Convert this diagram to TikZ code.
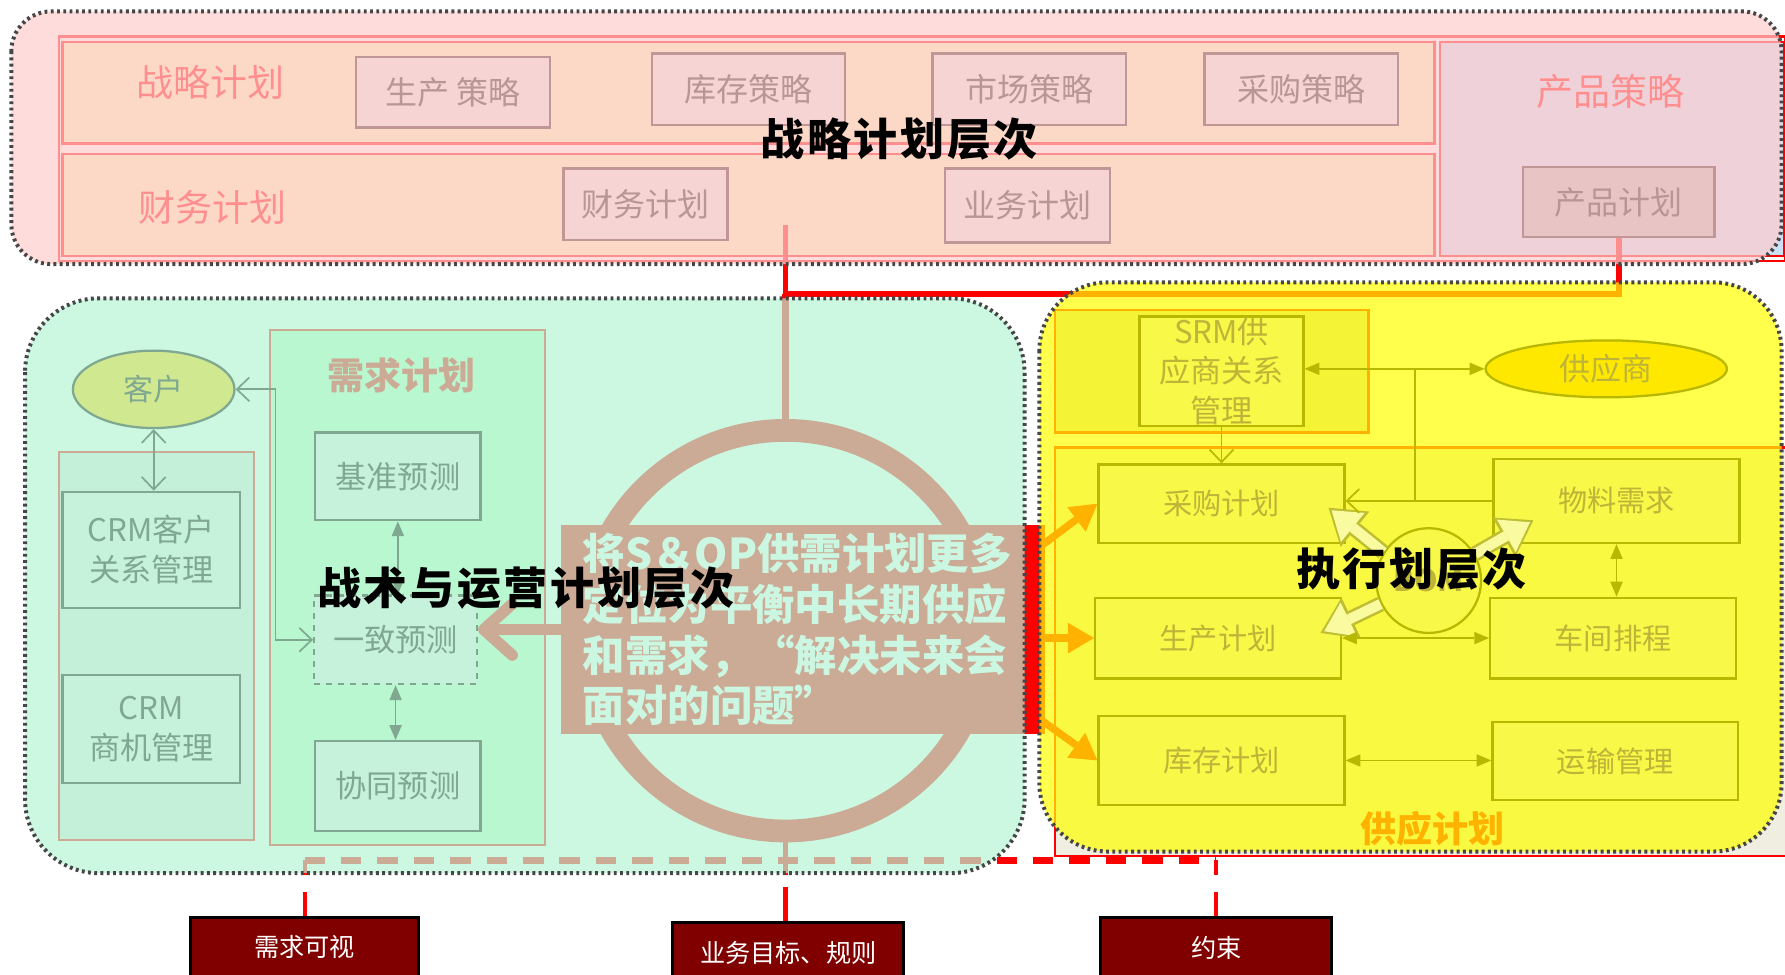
\documentclass[tikz,border=0pt]{standalone}
\usepackage{fontspec}
\setmainfont{Noto Sans CJK SC}
\newfontfamily\brushfont[LetterSpace=6]{Noto Sans CJK SC}
\usetikzlibrary{arrows.meta,calc,shapes.geometric}

\definecolor{planred}{RGB}{255,0,0}
\definecolor{pinkveil}{RGB}{255,205,205}
\definecolor{mintveil}{RGB}{182,245,214}
\definecolor{yellowveil}{RGB}{255,255,0}
\definecolor{rimgray}{RGB}{70,70,70}
\definecolor{rowback}{RGB}{248,242,188}
\definecolor{prodback}{RGB}{202,225,248}
\definecolor{leftback}{RGB}{229,228,221}
\definecolor{demback}{RGB}{189,255,194}
\definecolor{supback}{RGB}{240,238,224}
\definecolor{srmback}{RGB}{220,215,180}
\definecolor{stratfill}{RGB}{247,212,212}
\definecolor{stratedge}{RGB}{192,150,150}
\definecolor{strattext}{RGB}{185,150,150}
\definecolor{prodfill}{RGB}{232,196,196}
\definecolor{greenfill}{RGB}{198,242,220}
\definecolor{greenedge}{RGB}{128,168,144}
\definecolor{custfill}{RGB}{208,232,144}
\definecolor{yelfill}{RGB}{248,248,72}
\definecolor{yeledge}{RGB}{184,184,0}
\definecolor{yeltext}{RGB}{190,180,56}
\definecolor{supfill}{RGB}{255,232,0}
\definecolor{bomcore}{RGB}{250,250,160}
\definecolor{bomedge}{RGB}{190,190,50}
\definecolor{sinkred}{RGB}{128,0,0}

\pgfdeclarelayer{base}
\pgfdeclarelayer{veil}
\pgfsetlayers{base,veil,main}

\newcommand\hollowarrow[2]{%
  \draw[line width=0.27cm, bomedge, -{Triangle[length=0.6cm,width=0.8cm,line width=0pt]}] (#1) -- (#2);
  \draw[line width=0.18cm, bomcore, shorten >=0.07cm, -{Triangle[length=0.48cm,width=0.66cm,line width=0pt]}] (#1) -- (#2);}

\begin{document}
\begin{tikzpicture}[x=0.02cm, y=-0.02cm,
    >={Straight Barb[length=0.22cm,width=0.42cm]},
    solidtips/.style={arrows={Triangle[length=0.26cm,width=0.22cm,line width=0pt]-Triangle[length=0.26cm,width=0.22cm,line width=0pt]}},
    stratbox/.style={draw=stratedge, fill=stratfill, text=strattext, line width=0.04cm, inner sep=0pt, font=\fontsize{16}{19}\selectfont},
    redlabel/.style={text=planred, inner sep=0pt, font=\fontsize{18.5}{22}\selectfont},
    greenbox/.style={draw=greenedge, fill=greenfill, text=greenedge, line width=0.04cm, inner sep=0pt, align=center, font=\fontsize{15.6}{20}\selectfont},
    greenline/.style={draw=greenedge, line width=0.03cm},
    yelbox/.style={draw=yeledge, fill=yelfill, text=yeltext, line width=0.04cm, inner sep=0pt, align=center, font=\fontsize{14.6}{19.6}\selectfont},
    yelline/.style={draw=yeledge, line width=0.03cm},
    redframe/.style={draw=planred, line width=0.04cm},
    redwire/.style={draw=planred},
    notebox/.style={fill=planred, text=white, text width=7.74cm, inner xsep=0.38cm, inner ysep=0pt, minimum height=3.68cm, align=left, font=\bfseries\fontsize{21.2}{25.4}\selectfont},
    fatarrow/.style={draw=planred, line width=0.13cm, -{Triangle[length=0.46cm,width=0.54cm,line width=0pt]}},
    bigarrow/.style={draw=planred, line width=0.2cm, -{Straight Barb[length=0.5cm,width=0.9cm,round]}},
    veilrim/.style={draw=rimgray, line width=0.07cm, dash pattern=on 0.05cm off 0.06cm},
    sinkbox/.style={draw=black, fill=sinkred, text=white, line width=0.05cm, inner sep=0pt, font=\fontsize{12.6}{15}\selectfont},
    layertitle/.style={text=black, inner sep=0pt, font=\brushfont\bfseries\fontsize{22}{26}\selectfont}]
    \useasboundingbox (0,0) rectangle (1568,856);

    % Strategic level
    \node[stratbox, minimum width=3.4cm, minimum height=1.24cm] (prodstrat) at (398,81) {生产 策略};
    \node[stratbox, minimum width=3.38cm, minimum height=1.26cm] (invstrat) at (657.5,78.5) {库存策略};
    \node[stratbox, minimum width=3.4cm, minimum height=1.26cm] (mktstrat) at (904,78.5) {市场策略};
    \node[stratbox, minimum width=3.4cm, minimum height=1.26cm] (purstrat) at (1143,78.5) {采购策略};
    \node[stratbox, minimum width=2.88cm, minimum height=1.26cm] (finplan) at (567,179.5) {财务计划};
    \node[stratbox, minimum width=2.9cm, minimum height=1.3cm] (bizplan) at (902.5,180.5) {业务计划};
    \node[stratbox, fill=prodfill, minimum width=3.36cm, minimum height=1.22cm] (prodplan) at (1422,177.5) {产品计划};

    % Tactical and operational level
    \node[greenbox, ellipse, fill=custfill, minimum width=2.84cm, minimum height=1.36cm, font=\fontsize{15}{18}\selectfont] (customer) at (135,342) {客户};
    \node[greenbox, minimum width=3.12cm, minimum height=2.04cm] (crmcust) at (133,483) {CRM客户\\关系管理};
    \node[greenbox, minimum width=3.12cm, minimum height=1.9cm] (crmopp) at (133,640.5) {CRM\\商机管理};
    \node[greenbox, minimum width=2.9cm, minimum height=1.54cm] (basefc) at (349.5,418.5) {基准预测};
    \node[greenbox, dashed, minimum width=2.86cm, minimum height=1.56cm] (consfc) at (347.5,562) {一致预测};
    \node[greenbox, minimum width=2.9cm, minimum height=1.58cm] (collfc) at (349.5,690.5) {协同预测};

    \draw[greenline, <->] (customer.south) -- (customer.south |- crmcust.north);
    \draw[greenline, <->] (customer.east) -- ++(35,0) |- (consfc.west);
    \draw[greenline, solidtips] (basefc.south) -- (basefc.south |- consfc.north);
    \draw[greenline, solidtips] (consfc.south) -- (consfc.south |- collfc.north);

    % Execution level
    \node[yelbox, minimum width=2.88cm, minimum height=1.92cm, font=\fontsize{15.6}{19.6}\selectfont] (srm) at (1073,326) {SRM供\\应商关系\\管理};
    \node[yelbox, ellipse, fill=supfill, minimum width=4.24cm, minimum height=1cm, font=\fontsize{15.5}{18}\selectfont] (supplier) at (1411,324) {供应商};
    \node[yelbox, minimum width=4.32cm, minimum height=1.38cm] (purplan) at (1073,442.5) {采购计划};
    \node[yelbox, minimum width=4.32cm, minimum height=1.48cm] (matreq) at (1420,440) {物料需求};
    \node[yelbox, minimum width=4.32cm, minimum height=1.42cm] (mfgplan) at (1070,560.5) {生产计划};
    \node[yelbox, minimum width=4.32cm, minimum height=1.42cm] (shopsched) at (1417,560.5) {车间排程};
    \node[yelbox, minimum width=4.32cm, minimum height=1.56cm] (invplan) at (1073,668) {库存计划};
    \node[yelbox, minimum width=4.32cm, minimum height=1.38cm] (transmgmt) at (1419,668.5) {运输管理};
    \node[yelbox, circle, minimum size=1.84cm, font=\bfseries\fontsize{15}{18}\selectfont] (bom) at (1255,510) {BOM};

    \hollowarrow{bom.148}{$(purplan.east)+(-15,3.5)$}
    \hollowarrow{bom.30}{$(matreq.west)+(36,17)$}
    \hollowarrow{bom.206}{$(mfgplan.east)+(-19,-4.5)$}

    \coordinate (branch) at (1243,440);
    \draw[yelline, solidtips] (srm.east |- supplier.west) -- (supplier.west);
    \draw[yelline, ->] (matreq.west) -- (purplan.east |- matreq.west);
    \draw[yelline] (branch) -- (branch |- supplier.west);
    \draw[yelline, ->] (srm.south) -- (srm.south |- purplan.north);
    \draw[yelline, solidtips] (matreq.south) -- (matreq.south |- shopsched.north);
    \draw[yelline, solidtips] (mfgplan.east) -- (shopsched.west);
    \draw[yelline, solidtips] (invplan.east) -- (invplan.east -| transmgmt.west);

    % Outputs
    \node[sinkbox, minimum width=4.02cm, minimum height=1.04cm] (demvis) at (267.5,832) {需求可视};
    \node[sinkbox, minimum width=4.06cm, minimum height=1.08cm] (bizgoal) at (692.5,837) {业务目标、规则};
    \node[sinkbox, minimum width=4.06cm, minimum height=1.08cm] (constr) at (1068.5,833) {约束};

    % Red shapes under the veils
    \begin{pgfonlayer}{base}
        \draw[redframe, fill=rowback] (55,37) rectangle (1260,126);
        \draw[redframe, fill=rowback] (55,135) rectangle (1260,225);
        \draw[redframe, fill=prodback] (1265,37) rectangle (1567,225);
        \draw[redframe] (52,32) rectangle (1568,229);
        \node[redlabel] (stratlbl) at (185,72) {战略计划};
        \node[redlabel] (finlbl) at (187,182) {财务计划};
        \node[redlabel] (prodlbl) at (1415,80) {产品策略};

        \draw[redframe, fill=leftback] (52,397) rectangle (223,738);
        \draw[redframe, fill=demback] (237,290) rectangle (479,742);
        \node[redlabel, font=\bfseries\fontsize{18.5}{22}\selectfont] (demlbl) at (353,330) {需求计划};

        \draw[redframe, fill=srmback] (927,272) rectangle (1202,380);
        \draw[redframe, fill=supback] (927,393) rectangle (1570,752);
        \node[redlabel, font=\bfseries\fontsize{18}{22}\selectfont] (suplbl) at (1258,728) {供应计划};

        \node[circle, draw=planred, line width=0.4cm, minimum size=7.04cm, inner sep=0pt, outer sep=0pt] (ring) at (690,554) {};
        \node[notebox] (note) at (705.5,553) {将S＆OP供需计划更多\\定位为平衡中长期供应\\和需求，“解决未来会\\面对的问题”};

        \coordinate (elbowtop) at (690,198);
        \coordinate (joint) at (690,258);
        \draw[redwire, line width=0.1cm] (elbowtop) -- (joint) -| (prodplan.south);
        \draw[redwire, line width=0.12cm] (joint) -- (ring.north);
        \draw[redwire, line width=0.09cm, dash pattern=on 0.6cm off 0.2cm on 4cm off 0.01cm] (ring.south |- bizgoal.north) -- (ring.south);

        \draw[bigarrow] (note.west) -- (consfc.east |- note.west);
        \draw[fatarrow] ($(note.north east)+(-4,19)$) -- (purplan.west);
        \draw[fatarrow] (mfgplan.west -| note.east) -- (mfgplan.west);
        \draw[fatarrow] ($(note.south east)+(-4,-13)$) -- (invplan.west);

        \coordinate (dleft) at ($(demvis.north)+(0,-49)$);
        \coordinate (dright) at (constr.north |- dleft);
        \draw[redwire, line width=0.13cm, dash pattern=on 0.36cm off 0.28cm] (dleft) -- (dright);
        \draw[redwire, line width=0.07cm, dash pattern=on 0.42cm off 0.3cm on 2cm off 0.01cm] (demvis.north) -- (dleft);
        \draw[redwire, line width=0.07cm, dash pattern=on 0.42cm off 0.3cm on 2cm off 0.01cm] (constr.north) -- (dright);
    \end{pgfonlayer}

    % Level veils
    \begin{pgfonlayer}{veil}
        \fill[pinkveil, fill opacity=0.7, rounded corners=0.7cm] (10,10) rectangle (1565,232);
        \draw[veilrim, rounded corners=0.7cm] (10,10) rectangle (1565,232);
        \fill[mintveil, fill opacity=0.7, rounded corners=1.3cm] (22,262) rectangle (900,767);
        \draw[veilrim, rounded corners=1.3cm] (22,262) rectangle (900,767);
        \fill[yellowveil, fill opacity=0.7, rounded corners=1.2cm] (913,248) rectangle (1565,748);
        \draw[veilrim, rounded corners=1.2cm] (913,248) rectangle (1565,748);
    \end{pgfonlayer}

    % Level titles
    \node[layertitle] (stratlayer) at (790,122) {战略计划层次};
    \node[layertitle] (tactlayer) at (462,517) {战术与运营计划层次};
    \node[layertitle] (execlayer) at (1240,500) {执行划层次};
\end{tikzpicture}
\end{document}
